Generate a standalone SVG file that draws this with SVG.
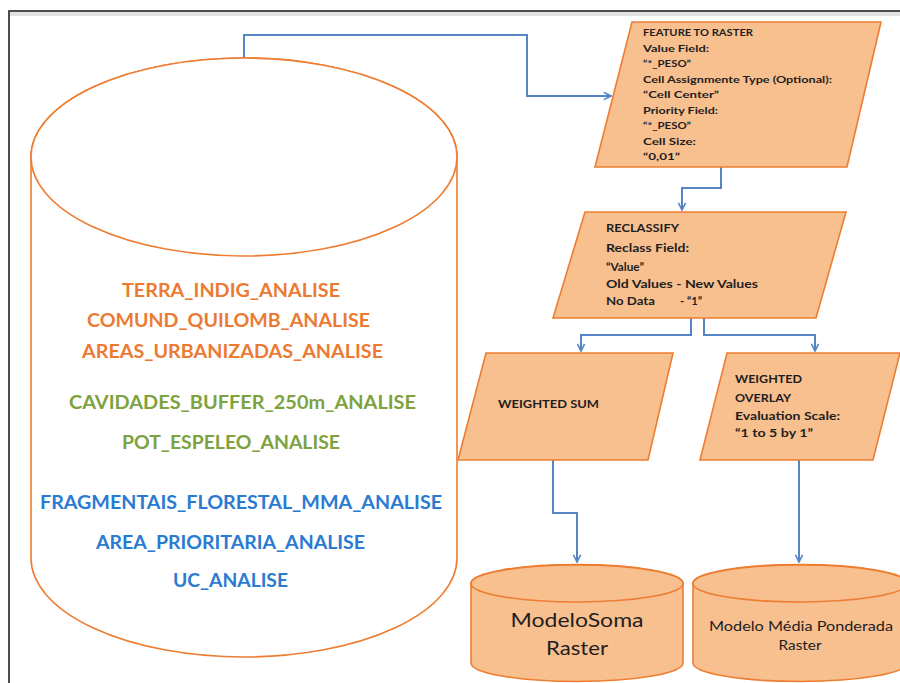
<svg xmlns="http://www.w3.org/2000/svg" width="900" height="683" viewBox="0 0 900 683">
<style>
.shape{fill:#F8BF8F;stroke:#ED7D31;stroke-width:1.6}
.db{fill:#FFFFFF;stroke:#ED7D31;stroke-width:1.6}
.conn{fill:none;stroke:#5585C5;stroke-width:2}
.t{font-family:Lato,"Liberation Sans",sans-serif;font-weight:bold;fill:#1E1E1E}
.s{font-size:10px}
.m{font-size:11.5px}
.big{font-family:Lato,"Liberation Sans",sans-serif;font-weight:bold;font-size:19.5px;text-anchor:middle}
.or{fill:#EC7A33}
.gr{fill:#7DA23E}
.bl{fill:#2A7BD1}
.c{font-family:Lato,"Liberation Sans",sans-serif;fill:#1E1E1E;text-anchor:middle}
</style>
<defs>
<marker id="arr" viewBox="0 0 10 10" refX="9" refY="5" markerWidth="9" markerHeight="9" markerUnits="userSpaceOnUse" orient="auto">
<path d="M1,1 L9,5 L1,9" fill="none" stroke="#5585C5" stroke-width="1.8"/>
</marker>
</defs>
<rect width="900" height="683" fill="#FFFFFF"/>
<line x1="10" y1="14" x2="900" y2="14" stroke="#E2E2E2" stroke-width="4"/>
<rect x="9" y="11" width="900" height="690" fill="none" stroke="#222222" stroke-width="1.6"/>

<g id="connectors">
<path class="conn" d="M244,58 V35 H527 V96 H611" marker-end="url(#arr)"/>
<path class="conn" d="M721,167 V188 H682 V210" marker-end="url(#arr)"/>
<path class="conn" d="M691,318 V335 H581 V351" marker-end="url(#arr)"/>
<path class="conn" d="M704,318 V335 H815 V351" marker-end="url(#arr)"/>
<path class="conn" d="M553,460 V513 H577 V562" marker-end="url(#arr)"/>
<path class="conn" d="M799,460 V562" marker-end="url(#arr)"/>
</g>

<g id="layers-db">
<path class="db" d="M31,157 V558 A213,99 0 0 0 457,558 V157 A213,99 0 0 0 31,157 Z"/>
<ellipse class="db" cx="244" cy="157" rx="213" ry="99" fill="none"/>
<text class="big or" x="231" y="297" textLength="218" lengthAdjust="spacingAndGlyphs">TERRA_INDIG_ANALISE</text>
<text class="big or" x="228.5" y="327" textLength="283" lengthAdjust="spacingAndGlyphs">COMUND_QUILOMB_ANALISE</text>
<text class="big or" x="232.5" y="358" textLength="301" lengthAdjust="spacingAndGlyphs">AREAS_URBANIZADAS_ANALISE</text>
<text class="big gr" x="242.5" y="409" textLength="347" lengthAdjust="spacingAndGlyphs">CAVIDADES_BUFFER_250m_ANALISE</text>
<text class="big gr" x="231" y="449" textLength="218" lengthAdjust="spacingAndGlyphs">POT_ESPELEO_ANALISE</text>
<text class="big bl" x="241" y="509" textLength="402" lengthAdjust="spacingAndGlyphs">FRAGMENTAIS_FLORESTAL_MMA_ANALISE</text>
<text class="big bl" x="230.5" y="549" textLength="269" lengthAdjust="spacingAndGlyphs">AREA_PRIORITARIA_ANALISE</text>
<text class="big bl" x="230.5" y="587" textLength="115" lengthAdjust="spacingAndGlyphs">UC_ANALISE</text>
</g>

<g id="feature-to-raster">
<polygon class="shape" points="632,22 881,22 847,167 595,167"/>
<text class="t s" x="643" y="36" textLength="110" lengthAdjust="spacingAndGlyphs">FEATURE TO RASTER</text>
<text class="t s" x="643" y="51.5" textLength="66" lengthAdjust="spacingAndGlyphs">Value Field:</text>
<text class="t s" x="643" y="67" textLength="48" lengthAdjust="spacingAndGlyphs">“*_PESO”</text>
<text class="t s" x="643" y="82.5" textLength="189" lengthAdjust="spacingAndGlyphs">Cell Assignmente Type (Optional):</text>
<text class="t s" x="643" y="98" textLength="76" lengthAdjust="spacingAndGlyphs">“Cell Center”</text>
<text class="t s" x="643" y="113.5" textLength="75" lengthAdjust="spacingAndGlyphs">Priority Field:</text>
<text class="t s" x="643" y="129" textLength="48" lengthAdjust="spacingAndGlyphs">“*_PESO”</text>
<text class="t s" x="643" y="144.5" textLength="53" lengthAdjust="spacingAndGlyphs">Cell Size:</text>
<text class="t s" x="643" y="160" textLength="37" lengthAdjust="spacingAndGlyphs">“0,01”</text>
</g>

<g id="reclassify">
<polygon class="shape" points="585,212 846,212 816,318 553,318"/>
<text class="t m" x="606" y="232" textLength="73" lengthAdjust="spacingAndGlyphs">RECLASSIFY</text>
<text class="t m" x="606" y="252" textLength="83" lengthAdjust="spacingAndGlyphs">Reclass Field:</text>
<text class="t m" x="606" y="271" textLength="38" lengthAdjust="spacingAndGlyphs">“Value”</text>
<text class="t m" x="606" y="288" textLength="152" lengthAdjust="spacingAndGlyphs">Old Values - New Values</text>
<text class="t m" x="606" y="305" textLength="49" lengthAdjust="spacingAndGlyphs">No Data</text>
<text class="t m" x="680" y="305" textLength="22" lengthAdjust="spacingAndGlyphs">- “1”</text>
</g>

<g id="weighted-sum">
<polygon class="shape" points="486,353 673,353 648,460 458,460"/>
<text class="t m" x="498" y="408" textLength="101" lengthAdjust="spacingAndGlyphs">WEIGHTED SUM</text>
</g>

<g id="weighted-overlay">
<polygon class="shape" points="727,353 900,353 873,460 700,460"/>
<text class="t m" x="735" y="383" textLength="67" lengthAdjust="spacingAndGlyphs">WEIGHTED</text>
<text class="t m" x="735" y="402" textLength="56" lengthAdjust="spacingAndGlyphs">OVERLAY</text>
<text class="t m" x="735" y="420" textLength="105" lengthAdjust="spacingAndGlyphs">Evaluation Scale:</text>
<text class="t m" x="735" y="437" textLength="78" lengthAdjust="spacingAndGlyphs">“1 to 5 by 1”</text>
</g>

<g id="modelo-soma">
<path class="shape" d="M471,583 V663 A106,18.5 0 0 0 683,663 V583 A106,18.5 0 0 0 471,583 Z"/>
<ellipse class="shape" cx="577" cy="583.5" rx="106" ry="18.5"/>
<text class="c" x="577" y="627" font-size="20" textLength="133" lengthAdjust="spacingAndGlyphs">ModeloSoma</text>
<text class="c" x="577" y="655" font-size="20" textLength="62" lengthAdjust="spacingAndGlyphs">Raster</text>
</g>

<g id="modelo-media">
<path class="shape" d="M693,583 V663 A107,18.5 0 0 0 907,663 V583 A107,18.5 0 0 0 693,583 Z"/>
<ellipse class="shape" cx="800" cy="583.5" rx="107" ry="18.5"/>
<text class="c" x="801" y="631" font-size="14" textLength="184" lengthAdjust="spacingAndGlyphs">Modelo Média Ponderada</text>
<text class="c" x="800" y="650" font-size="14" textLength="43" lengthAdjust="spacingAndGlyphs">Raster</text>
</g>
</svg>
